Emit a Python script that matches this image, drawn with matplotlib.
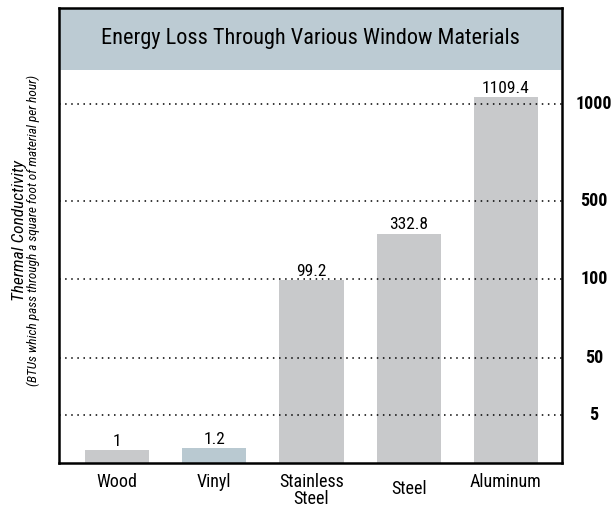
import numpy as np
import matplotlib.pyplot as plt
from matplotlib.patches import Rectangle
from matplotlib.scale import FuncScale
from matplotlib.transforms import ScaledTranslation

plt.rcParams['font.family'] = ['Roboto Condensed', 'DejaVu Sans']

materiais = ['Wood', 'Vinyl', 'Stainless\nSteel', 'Steel', 'Aluminum']
condutividade = [1, 1.2, 99.2, 332.8, 1109.4]
rotulos = ['1', '1.2', '99.2', '332.8', '1109.4']
cores = ['#c8c9cb', '#b9c9d1', '#c8c9cb', '#c8c9cb', '#c8c9cb']

marcas_y = [5, 50, 100, 500, 1000]

# escala do infografico (nao linear): valor -> altura relativa
escala_valores = [0, 1, 5, 50, 100, 500, 1000, 2500]
escala_alturas = [0, 13, 48, 105, 184, 262, 359, 455]


def direta(v):
    return np.interp(v, escala_valores, escala_alturas)


def inversa(h):
    return np.interp(h, escala_alturas, escala_valores)


fig = plt.figure(figsize=(6.14, 5.14), dpi=100)
ax = fig.add_axes([0.0961, 0.0992, 0.8192, 0.8852])
ax.set_yscale(FuncScale(ax.yaxis, (direta, inversa)))

x = np.arange(len(materiais))
barras = ax.bar(x, condutividade, width=0.66, color=cores, zorder=1)
ax.bar_label(barras, labels=rotulos, padding=1, fontsize=12.5, zorder=5)

for m in marcas_y:
    ax.axhline(m, color='black', linestyle=(0, (1, 3)), linewidth=1.1, zorder=2)
    ax.text(1.064, m, str(m), transform=ax.get_yaxis_transform(),
            ha='center', va='center', fontsize=13, fontweight='bold')

ax.set_xlim(-0.6, 4.58)
ax.set_ylim(0, 2500)

# faixa do titulo
ax.add_patch(Rectangle((0, 0.8637), 1, 0.1363, transform=ax.transAxes,
                       facecolor='#bccbd3', edgecolor='none', zorder=3))
ax.text(0.5, 0.932, 'Energy Loss Through Various Window Materials',
        transform=ax.transAxes, ha='center', va='center', fontsize=16, zorder=4)

ax.set_xticks(x)
ax.set_xticklabels(materiais, fontsize=13, linespacing=0.92)
ax.tick_params(axis='x', length=0, pad=7)
# no original o rotulo "Steel" fica um pouco mais baixo
rotulo_steel = ax.get_xticklabels()[3]
rotulo_steel.set_transform(rotulo_steel.get_transform()
                           + ScaledTranslation(0, -5 / 72, fig.dpi_scale_trans))
ax.set_yticks([])
ax.tick_params(axis='y', which='both', length=0, labelleft=False)
ax.yaxis.set_minor_locator(plt.NullLocator())
for lado in ax.spines.values():
    lado.set_linewidth(1.8)
    lado.set_zorder(6)

fig.text(0.031, 0.5525, 'Thermal Conductivity', rotation=90, style='italic',
         fontsize=12.5, ha='center', va='center')
fig.text(0.054, 0.5525, '(BTUs which pass through a square foot of material per hour)',
         rotation=90, style='italic', fontsize=9.5, ha='center', va='center')

plt.savefig('out.png', dpi=100)
